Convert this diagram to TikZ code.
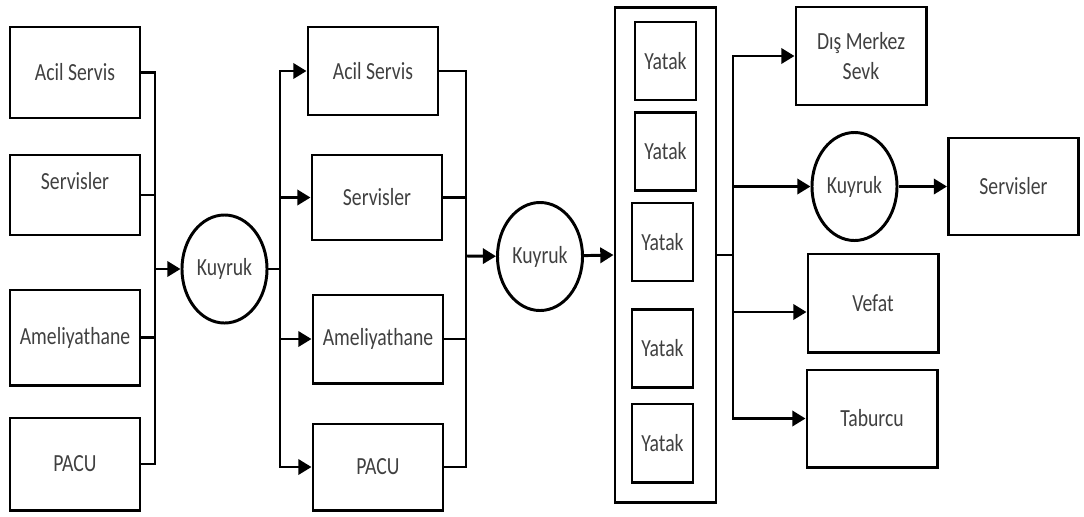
\documentclass[tikz,border=0pt]{standalone}
\usepackage{fontspec}
\setmainfont{Carlito}[FakeStretch=0.8]
\usetikzlibrary{arrows.meta,shapes.geometric}

\begin{document}
\begin{tikzpicture}[x=0.025cm,y=-0.025cm]
\useasboundingbox (0,0) rectangle (1084,516);
\tikzstyle{kutu} = [draw, line width=2.1pt, minimum width=3.25cm, inner sep=2, text=black!75, font=\fontsize{17.5}{21}\selectfont]
\tikzstyle{kuyruk} = [draw, ellipse, line width=2.1pt, minimum width=2.125cm, minimum height=2.7cm, inner sep=0, text=black!75, font=\fontsize{17.5}{21}\selectfont]
\tikzstyle{yatak} = [draw, line width=2.1pt, minimum width=1.525cm, minimum height=1.95cm, inner sep=0, text=black!75, font=\fontsize{17.5}{21}\selectfont]

% girisler
\node [kutu, minimum height=2.275cm] (la) at (75,72.5) {Acil Servis};
\node [kutu, minimum height=2cm, text depth=20pt] (ls) at (75,195) {Servisler};
\node [kutu, minimum height=2.375cm] (lm) at (75,337.5) {Ameliyathane};
\node [kutu, minimum height=2.3cm] (lp) at (75,464) {PACU};
\node [kuyruk] (q1) at (224.5,269) {Kuyruk};

\node [kutu, minimum height=2.2cm] (ma) at (373,71) {Acil Servis};
\node [kutu, minimum height=2.125cm] (ms) at (377,197.5) {Servisler};
\node [kutu, minimum height=2.2cm] (mm) at (378,339) {Ameliyathane};
\node [kutu, minimum height=2.15cm] (mp) at (378,467) {PACU};
\node [kuyruk] (q2) at (540,256.5) {Kuyruk};

% yataklar
\node [draw, line width=2.1pt, minimum width=2.525cm, minimum height=12.35cm] (yat) at (665.5,255) {};
\node [yatak] (y1) at (665.5,61) {Yatak};
\node [yatak] (y2) at (665.5,151.5) {Yatak};
\node [yatak] (y3) at (662.5,242) {Yatak};
\node [yatak] (y4) at (662.5,348.5) {Yatak};
\node [yatak] (y5) at (662.5,443) {Yatak};

% cikislar
\node [kutu, minimum height=2.45cm, align=center] (dms) at (861,56) {Dış Merkez\\Sevk};
\node [kuyruk] (q3) at (854.5,186.5) {Kuyruk};
\node [kutu, minimum height=2.425cm] (srv) at (1013.5,186.5) {Servisler};
\node [kutu, minimum height=2.45cm] (vef) at (873,303) {Vefat};
\node [kutu, minimum height=2.425cm] (tab) at (872,418.5) {Taburcu};

\coordinate (b1) at (155,269);
\coordinate (b2) at (280,269);
\coordinate (b3) at (466,256);
\coordinate (b4) at (733,255);

\tikzstyle{hat} = [line width=2.1pt]
\tikzstyle{ok} = [-{Triangle[length=0.33cm,width=0.38cm]}, line width=2.1pt]
\draw [hat] (la.east) -| (b1) |- (lp.east);
\draw [hat] (ls.east) -| (b1);
\draw [hat] (lm.east) -| (b1);
\draw [ok] (b1) -- (q1);

\draw [hat] (q1) -- (b2);
\draw [ok] (b2) |- (ma.west);
\draw [ok] (b2) |- (ms.west);
\draw [ok] (b2) |- (mm.west);
\draw [ok] (b2) |- (mp.west);

\draw [hat] (ma.east) -| (b3) |- (mp.east);
\draw [hat] (ms.east) -| (b3);
\draw [hat] (mm.east) -| (b3);
\draw [ok] (b3) -- (q2);
\draw [ok] (q2) -- (yat.west);

\draw [hat] (yat.east) -- (b4);
\draw [ok] (b4) |- (dms.west);
\draw [ok] (b4) |- (q3);
\draw [ok] (b4) |- ([yshift=-6.4pt]vef.west);
\draw [ok] (b4) |- (tab.west);
\draw [ok] (q3) -- (srv);
\end{tikzpicture}
\end{document}
